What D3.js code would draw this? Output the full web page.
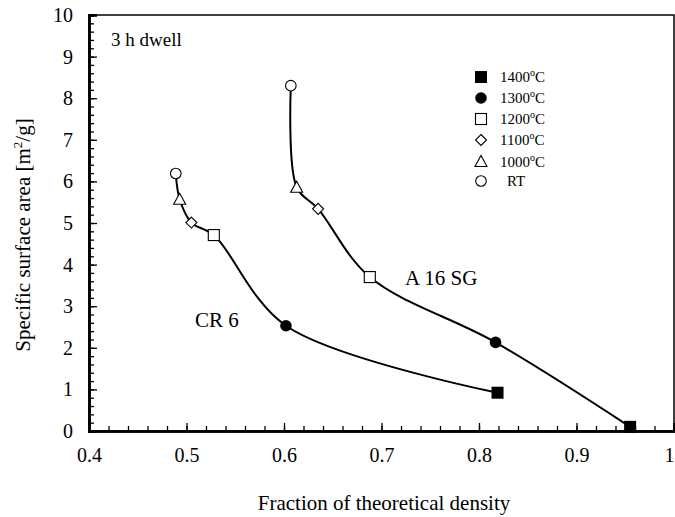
<!DOCTYPE html>
<html><head><meta charset="utf-8">
<script src="https://cdn.jsdelivr.net/npm/d3@7"></script>
<style>body{margin:0;background:#fff}svg{display:block}text{font-family:"Liberation Serif","Times New Roman",serif;fill:#000}</style>
</head><body><svg id="c" width="675" height="517"></svg>
<script>
// ---- data ----
const temps = ["1400", "1300", "1200", "1100", "1000", "RT"];
const markerTypes = ["fsquare", "fcircle", "osquare", "diamond", "triangle", "ocircle"];
const cr6X = [0.819, 0.602, 0.528, 0.505, 0.493, 0.489];
const cr6Y = [0.92, 2.53, 4.71, 5.01, 5.57, 6.19];
const a16X = [0.955, 0.817, 0.688, 0.635, 0.613, 0.607];
const a16Y = [0.10, 2.13, 3.70, 5.34, 5.86, 8.30];
const xTicks = [0.4, 0.5, 0.6, 0.7, 0.8, 0.9, 1.0];
const xTickLabels = ["0.4", "0.5", "0.6", "0.7", "0.8", "0.9", "1"];
const yTicks = [0, 1, 2, 3, 4, 5, 6, 7, 8, 9, 10];

// ---- layout ----
const svg = d3.select("#c");
const L = 89, R = 674, T = 15, B = 431;
const x = d3.scaleLinear().domain([0.4, 1.0]).range([L, R]);
const y = d3.scaleLinear().domain([0, 10]).range([B, T]);

// frame
svg.append("rect").attr("x", L).attr("y", T).attr("width", R - L).attr("height", B - T)
  .attr("fill", "none").attr("stroke", "#000").attr("stroke-width", 1.5);

// ticks (inward)
const xMinor = d3.range(0.4, 1.0001, 0.02);
const yMinor = d3.range(0, 10.0001, 0.2);
const xAxis = d3.axisBottom(x).tickValues(xMinor).tickSize(-5).tickFormat("");
const gx = svg.append("g").attr("transform", `translate(0,${B})`).call(xAxis);
const xAxisMaj = d3.axisBottom(x).tickValues(xTicks).tickSize(-8).tickPadding(17)
  .tickFormat((d, i) => xTickLabels[i]);
const gxm = svg.append("g").attr("transform", `translate(0,${B})`).call(xAxisMaj);
const yAxis = d3.axisLeft(y).tickValues(yMinor).tickSize(-5).tickFormat("");
const gy = svg.append("g").attr("transform", `translate(${L},0)`).call(yAxis);
const yAxisMaj = d3.axisLeft(y).tickValues(yTicks).tickSize(-8).tickPadding(16).tickFormat(d3.format("d"));
const gym = svg.append("g").attr("transform", `translate(${L},0)`).call(yAxisMaj);
[gx, gxm, gy, gym].forEach(g => {
  g.select(".domain").attr("stroke", "#000").attr("stroke-width", 2.5);
  g.selectAll(".tick line").attr("stroke", "#000").attr("stroke-width", 1.3);
  g.selectAll("text").style("font-family", '"Liberation Serif",serif').style("font-size", "20px").attr("fill", "#000");
});
// keep last x label inside the picture
gxm.selectAll(".tick text").filter(d => d === 1.0).attr("text-anchor", "end").attr("dx", 0);

// curves
const line = d3.line().x(d => x(d[0])).y(d => y(d[1])).curve(d3.curveCatmullRom.alpha(0.5));
const cr6 = cr6X.map((v, i) => [v, cr6Y[i]]);
const a16 = a16X.map((v, i) => [v, a16Y[i]]);
[cr6, a16].forEach(s => svg.append("path").datum(s).attr("d", line)
  .attr("fill", "none").attr("stroke", "#000").attr("stroke-width", 2));

// markers
function marker(g, type, cx, cy) {
  const sw = 1.1;
  if (type === "fsquare") g.append("rect").attr("x", cx - 6).attr("y", cy - 6).attr("width", 12).attr("height", 12).attr("fill", "#000");
  else if (type === "fcircle") g.append("circle").attr("cx", cx).attr("cy", cy).attr("r", 5.8).attr("fill", "#000");
  else if (type === "osquare") g.append("rect").attr("x", cx - 5.5).attr("y", cy - 5.5).attr("width", 11).attr("height", 11).attr("fill", "#fff").attr("stroke", "#000").attr("stroke-width", sw);
  else if (type === "diamond") g.append("path").attr("d", `M${cx},${cy - 5.5}L${cx + 5.5},${cy}L${cx},${cy + 5.5}L${cx - 5.5},${cy}Z`).attr("fill", "#fff").attr("stroke", "#000").attr("stroke-width", sw);
  else if (type === "triangle") g.append("path").attr("d", `M${cx},${cy - 6}L${cx + 6},${cy + 5}L${cx - 6},${cy + 5}Z`).attr("fill", "#fff").attr("stroke", "#000").attr("stroke-width", sw);
  else if (type === "ocircle") g.append("circle").attr("cx", cx).attr("cy", cy).attr("r", 5.3).attr("fill", "#fff").attr("stroke", "#000").attr("stroke-width", sw);
}
const gm = svg.append("g");
[cr6, a16].forEach(s => s.forEach((d, i) => marker(gm, markerTypes[i], x(d[0]), y(d[1]))));

// legend
const lg = svg.append("g");
const legY = [77, 98, 119, 140, 161.5, 181];
temps.forEach((t, i) => {
  marker(lg, markerTypes[i], 481, legY[i]);
  const tx = lg.append("text").attr("x", t === "RT" ? 507 : 500).attr("y", legY[i] + 5).style("font-size", "15px");
  if (t === "RT") tx.text("RT");
  else {
    tx.append("tspan").text(t);
    tx.append("tspan").attr("dy", -6).style("font-size", "10px").text("o");
    tx.append("tspan").attr("dy", 6).text("C");
  }
});

// annotations
svg.append("text").attr("x", 111).attr("y", 46).style("font-size", "19px").text("3 h dwell");
svg.append("text").attr("x", 195).attr("y", 327).style("font-size", "21px").text("CR 6");
svg.append("text").attr("x", 405).attr("y", 285).style("font-size", "21px").text("A 16 SG");

// axis titles
svg.append("text").attr("x", 384).attr("y", 510).attr("text-anchor", "middle").style("font-size", "21px")
  .text("Fraction of theoretical density");
const yt = svg.append("text").attr("transform", "translate(30,235) rotate(-90)").attr("text-anchor", "middle").style("font-size", "21px");
yt.append("tspan").text("Specific surface area [m");
yt.append("tspan").attr("dy", -8).style("font-size", "13px").text("2");
yt.append("tspan").attr("dy", 8).text("/g]");
</script></body></html>
